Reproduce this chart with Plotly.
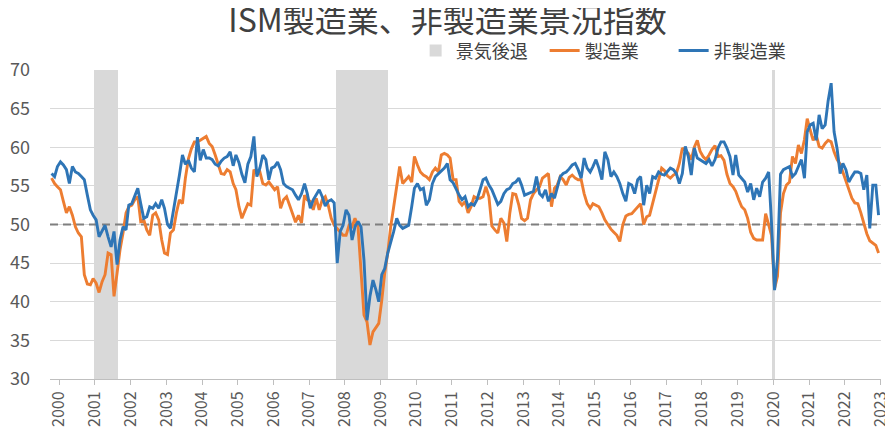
import pandas as pd
import plotly.graph_objects as go

# ---------------- data (monthly, Jan 2000 - Mar 2023) ----------------
start_month = "2000-01-01"

manufacturing = [
    56.0, 55.3, 54.9, 54.5, 53.0, 51.5, 52.3, 51.2, 49.7, 48.9, 48.4, 43.5,  # 2000
    42.3, 42.2, 43.0, 42.4, 41.2, 42.6, 43.5, 46.3, 46.1, 40.7, 43.7, 46.7,  # 2001
    48.9, 51.5, 52.3, 52.5, 53.2, 53.6, 50.4, 50.6, 49.3, 48.6, 51.2, 51.5,  # 2002
    50.6, 48.0, 46.3, 46.1, 48.9, 49.3, 51.5, 53.2, 52.7, 56.0, 58.5, 59.8,  # 2003
    60.7, 60.7, 60.9, 61.2, 61.4, 60.5, 60.1, 59.0, 57.8, 56.6, 56.5, 57.1,  # 2004
    56.8, 55.3, 54.5, 52.3, 50.8, 51.9, 52.7, 52.5, 57.1, 56.6, 56.8, 55.3,  # 2005
    55.1, 55.5, 55.0, 54.5, 54.9, 52.1, 53.2, 53.6, 52.5, 51.5, 50.3, 51.2,  # 2006
    50.2, 53.8, 53.2, 53.0, 51.9, 53.4, 51.9, 53.2, 53.6, 52.5, 50.8, 49.9,  # 2007
    49.5, 49.1, 48.6, 48.6, 49.9, 49.7, 50.8, 49.7, 43.8, 38.3, 37.4, 34.4,  # 2008
    36.1, 36.6, 37.2, 40.2, 43.7, 46.3, 49.7, 52.3, 54.9, 57.5, 55.3, 55.8,  # 2009
    56.2, 55.5, 58.8, 57.7, 56.8, 56.4, 56.2, 55.8, 56.8, 57.3, 56.8, 59.0,  # 2010
    59.2, 59.0, 58.6, 55.8, 55.8, 53.0, 52.5, 53.0, 51.5, 52.3, 53.6, 53.4,  # 2011
    53.4, 53.6, 54.9, 53.6, 49.8, 49.3, 48.9, 50.8, 50.2, 47.8, 51.5, 54.0,  # 2012
    53.9, 52.5, 50.8, 50.5, 50.8, 53.2, 54.0, 54.5, 54.9, 56.0, 56.3, 56.6,  # 2013
    52.3, 54.7, 55.1, 56.2, 55.8, 55.1, 56.1, 56.4, 56.0, 55.8, 55.8, 54.0,  # 2014
    52.7, 52.1, 52.7, 52.5, 52.3, 51.5, 50.6, 50.0, 49.4, 49.0, 48.6, 47.8,  # 2015
    50.0, 51.1, 51.3, 51.4, 51.8, 52.3, 52.7, 50.0, 51.0, 51.2, 52.7, 54.3,  # 2016
    55.8, 57.3, 57.0, 56.3, 56.0, 56.4, 56.6, 57.9, 59.9, 59.6, 59.2, 58.4,  # 2017
    60.0, 60.9, 59.5, 58.8, 58.4, 59.0, 59.7, 60.2, 58.8, 58.9, 58.3, 56.5,  # 2018
    55.3, 54.9, 54.3, 53.2, 52.3, 51.9, 50.8, 49.0, 48.2, 48.0, 48.0, 48.0,  # 2019
    51.4, 49.8, 48.6, 41.7, 43.3, 51.5, 54.0, 55.1, 55.5, 58.8, 57.9, 60.3,  # 2020
    59.2, 61.0, 63.7, 62.2, 60.9, 61.6, 60.1, 59.9, 60.5, 60.9, 60.7, 59.4,  # 2021
    58.4, 57.8, 56.8, 55.6, 54.6, 53.4, 52.8, 52.7, 51.5, 50.0, 48.8, 47.9,  # 2022
    47.6, 47.3, 46.3,                                                        # 2023
]

non_manufacturing = [
    56.6, 56.2, 57.5, 58.1, 57.7, 57.1, 55.3, 57.5, 56.8, 56.6, 56.2, 55.8,  # 2000
    53.8, 51.9, 51.2, 50.6, 48.4, 49.1, 49.9, 48.4, 47.1, 49.1, 44.8, 48.0,  # 2001
    49.7, 49.3, 52.5, 52.7, 53.6, 54.7, 52.7, 50.8, 51.0, 52.3, 52.1, 52.7,  # 2002
    52.1, 53.2, 52.1, 50.0, 49.5, 51.7, 54.3, 56.4, 59.0, 57.8, 58.3, 57.3,  # 2003
    56.8, 61.3, 58.3, 59.7, 58.6, 58.6, 58.4, 57.8, 57.6, 58.2, 58.6, 58.8,  # 2004
    59.4, 57.6, 59.0, 58.0, 56.5, 55.4, 57.8, 58.8, 61.4, 56.2, 57.3, 59.0,  # 2005
    58.4, 55.8, 57.3, 57.5, 58.1, 57.1, 55.3, 54.9, 54.7, 54.5, 53.8, 53.2,  # 2006
    54.0, 55.3, 54.0, 52.1, 53.2, 53.8, 54.5, 53.6, 52.4, 53.0, 53.2, 52.8,  # 2007
    45.0, 49.1, 49.9, 51.9, 51.2, 48.0, 49.7, 50.4, 49.7, 45.4, 37.6, 40.7,  # 2008
    42.8, 41.5, 40.0, 43.5, 44.3, 46.3, 47.6, 49.1, 50.8, 49.9, 49.5, 49.7,  # 2009
    49.9, 52.3, 54.7, 55.3, 54.5, 54.7, 52.5, 53.2, 55.3, 56.2, 56.6, 57.0,  # 2010
    57.3, 57.9, 55.8, 55.4, 54.5, 53.8, 53.2, 53.6, 52.3, 52.7, 52.5, 53.2,  # 2011
    54.5, 55.8, 56.0, 55.1, 54.5, 53.6, 52.6, 53.0, 54.0, 54.5, 54.7, 55.3,  # 2012
    55.5, 56.0, 55.1, 53.8, 54.0, 54.1, 54.3, 56.2, 54.0, 53.6, 54.5, 53.0,  # 2013
    54.0, 53.4, 54.9, 56.2, 56.6, 56.8, 57.2, 57.7, 57.9, 57.1, 56.0, 58.6,  # 2014
    57.3, 56.8, 57.5, 58.4, 57.3, 55.8, 59.4, 58.4, 56.2, 56.8, 56.2, 55.3,  # 2015
    54.0, 53.0, 55.3, 55.1, 54.0, 55.8, 56.2, 52.5, 55.1, 54.0, 56.2, 56.0,  # 2016
    56.8, 56.5, 56.4, 56.8, 57.3, 57.1, 56.6, 55.3, 56.6, 60.1, 58.8, 56.4,  # 2017
    59.9, 58.6, 58.4, 58.1, 57.9, 58.4, 57.6, 58.4, 59.9, 60.7, 60.7, 59.9,  # 2018
    58.8, 56.4, 59.0, 56.4, 56.0, 55.5, 54.2, 55.3, 53.2, 54.7, 53.6, 55.5,  # 2019
    56.0, 56.8, 50.2, 41.5, 45.5, 56.5, 57.1, 57.3, 57.5, 56.2, 56.6, 57.5,  # 2020
    58.4, 56.0, 62.0, 62.9, 63.1, 60.9, 64.2, 62.4, 62.9, 66.0, 68.3, 62.0,  # 2021
    59.8, 56.6, 57.9, 57.1, 55.5, 56.2, 56.8, 56.8, 56.6, 54.5, 56.4, 49.5,  # 2022
    55.1, 55.1, 51.2,                                                        # 2023
]

# recession bands (景気後退)
recession_start = ["2001-03-15", "2007-12-18", "2020-03-10"]
recession_end = ["2001-11-10", "2009-06-06", "2020-04-01"]

threshold = 50
tick_years = list(range(2000, 2024))
y_min, y_max = 30, 70

title_text = "ISM製造業、非製造業景況指数"
source_text = "出所：ISMより筆者作成"

# ---------------- figure ----------------
dates = pd.date_range(start_month, periods=len(manufacturing), freq="MS")
rs = pd.to_datetime(recession_start)
re_ = pd.to_datetime(recession_end)
rec_mid = rs + (re_ - rs) / 2
rec_width = [(e - s).total_seconds() * 1000 for s, e in zip(rs, re_)]

x_lo = pd.Timestamp("1999-12-16")
x_hi = pd.Timestamp("2023-03-26")

FONT = "Noto Sans CJK JP, Noto Sans, sans-serif"

fig = go.Figure()

fig.add_trace(go.Bar(
    x=rec_mid, y=[y_max - y_min] * len(rs), base=y_min, width=rec_width,
    name="景気後退", marker=dict(color="#D9D9D9", line=dict(width=0)),
    hoverinfo="skip",
))

fig.add_trace(go.Scatter(
    x=[x_lo, x_hi], y=[threshold, threshold], mode="lines",
    line=dict(color="#7F7F7F", width=2.2, dash="8px,5px"),
    showlegend=False, hoverinfo="skip",
))

fig.add_trace(go.Scatter(
    x=dates, y=manufacturing, mode="lines", name="製造業",
    line=dict(color="#ED7D31", width=2.9),
))

fig.add_trace(go.Scatter(
    x=dates, y=non_manufacturing, mode="lines", name="非製造業",
    line=dict(color="#2E75B6", width=2.9),
))

# the page body adds an 8px offset, so the figure is sized to fit the window
fig.update_layout(
    width=885, height=440,
    margin=dict(l=42, r=12, t=62, b=69, autoexpand=False),
    paper_bgcolor="white", plot_bgcolor="white",
    font=dict(family=FONT, color="#595959", size=17),
    title=dict(text=title_text, x=0.4966, xanchor="center", y=0.997, yanchor="top",
               pad=dict(t=0, b=0),
               font=dict(family=FONT, size=32, color="#404040")),
    legend=dict(orientation="h", x=0.44, xanchor="left", y=1.062, yanchor="middle",
                font=dict(family=FONT, size=18, color="#404040"),
                itemwidth=30, entrywidth=84, entrywidthmode="pixels",
                bgcolor="rgba(0,0,0,0)", traceorder="normal"),
    bargap=0,
    showlegend=True,
)

fig.update_xaxes(
    type="date", range=[x_lo, x_hi], automargin=False,
    tickvals=[pd.Timestamp(f"{y}-03-20") for y in tick_years],
    ticktext=[str(y) for y in tick_years],
    tickangle=-90, tickfont=dict(size=16, color="#595959"),
    ticks="outside", ticklen=5, tickcolor="#BFBFBF",
    showline=True, linecolor="#BFBFBF", linewidth=1,
    showgrid=False, zeroline=False,
)

fig.update_yaxes(
    range=[y_min, y_max], dtick=5, tick0=30, automargin=False,
    showgrid=True, gridcolor="#D9D9D9", gridwidth=1,
    zeroline=False, showline=False, ticks="",
    tickfont=dict(size=18, color="#595959"),
    ticklabelstandoff=19,
)

fig.add_annotation(
    text=source_text, xref="paper", yref="paper", x=-0.018, y=-0.207,
    xanchor="left", yanchor="top", showarrow=False,
    font=dict(family=FONT, size=12, color="#595959"),
)

fig.write_html("out.html")
